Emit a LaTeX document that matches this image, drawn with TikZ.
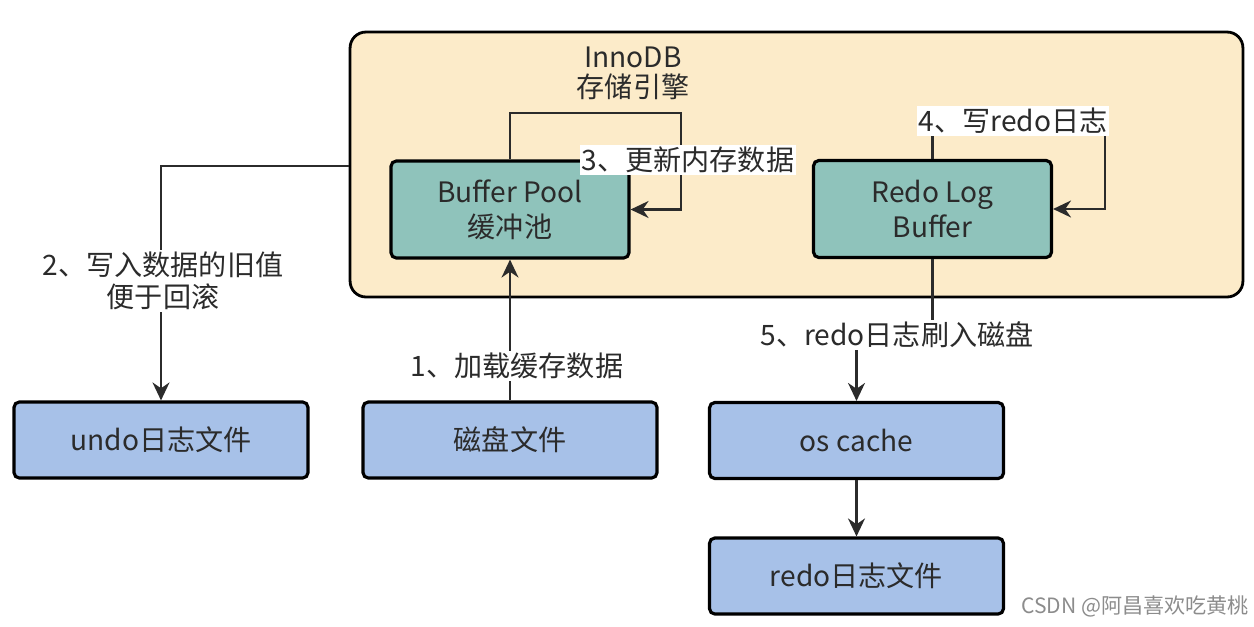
\documentclass[tikz,border=0pt]{standalone}
\usepackage{fontspec}
\setmainfont{Noto Sans CJK SC}
\usetikzlibrary{arrows.meta}

\definecolor{enginebg}{HTML}{FCEBC9}
\definecolor{poolteal}{HTML}{8FC3BB}
\definecolor{fileblue}{HTML}{A7C1E8}
\definecolor{inkgray}{HTML}{2B2B2B}

\begin{document}
\begin{tikzpicture}[
    x=0.02cm, y=-0.02cm,
    % InnoDB container style
    engine/.style={
        rectangle,
        rounded corners=9pt,
        draw=black,
        line width=1.6pt,
        fill=enginebg,
        minimum width=17.86cm,
        minimum height=5.3cm
    },
    % Memory buffer box style
    membox/.style={
        rectangle,
        rounded corners=3pt,
        draw=black,
        line width=1.8pt,
        fill=poolteal,
        minimum width=4.76cm,
        minimum height=1.94cm,
        align=center,
        text=inkgray,
        font=\fontsize{16}{20}\selectfont
    },
    % File box style
    filebox/.style={
        rectangle,
        rounded corners=3pt,
        draw=black,
        line width=1.8pt,
        fill=fileblue,
        minimum width=5.88cm,
        minimum height=1.52cm,
        text=inkgray,
        font=\fontsize{16}{20}\selectfont
    },
    % Arrow style
    arrow/.style={
        -{Stealth[length=3.6mm, width=3.4mm]},
        line width=1.2pt,
        inkgray
    },
    % Step label style
    lbl/.style={
        fill=white,
        inner sep=1pt,
        align=center,
        text=inkgray,
        font=\fontsize{16}{18}\selectfont
    }
]
\useasboundingbox (0,0) rectangle (1254,626);

% === InnoDB storage engine ===
\node[engine] (innodb) at (796.5,164.5) {};
\node[align=center, text=inkgray, font=\fontsize{16}{17}\selectfont] (title) at (633,73) {InnoDB\\存储引擎};

\node[membox] (pool) at (510,209.5) {Buffer Pool\\缓冲池};
\node[membox] (rlb) at (932.5,209) {Redo Log\\Buffer};

% === Files ===
\node[filebox] (undo) at (161,440) {undo日志文件};
\node[filebox] (disk) at (510,440) {磁盘文件};
\node[filebox] (oscache) at (856.5,440.5) {os cache};
\node[filebox] (redofile) at (856.5,576) {redo日志文件};

% === Bends ===
\coordinate (c2) at (163,166);
\coordinate (c3) at (681,113);
\coordinate (c4) at (1105,121);
\coordinate (c5) at (932.5,335);

% === Connectors ===
\draw[arrow] (disk.north) -- (pool.south);
\draw[arrow] (innodb.west |- c2) -| (undo.north);
\draw[arrow] (pool.north) |- (c3) |- (pool.east);
\draw[arrow] (rlb.north) |- (c4) |- (rlb.east);
\draw[arrow] (rlb.south) |- (c5) -| (oscache.north);
\draw[arrow] (oscache) -- (redofile);

% === Step labels ===
\node[lbl] (s1) at (517,366) {1、加载缓存数据};
\node[lbl] (s2) at (163,281) {2、写入数据的旧值\\便于回滚};
\node[lbl] (s3) at (688,160) {3、更新内存数据};
\node[lbl] (s4) at (1013,121) {4、写redo日志};
\node[lbl] (s5) at (897,335) {5、redo日志刷入磁盘};

% watermark
\node[text=black!45, font=\fontsize{12}{14}\selectfont] (mark) at (1135,606) {CSDN @阿昌喜欢吃黄桃};

\end{tikzpicture}
\end{document}
